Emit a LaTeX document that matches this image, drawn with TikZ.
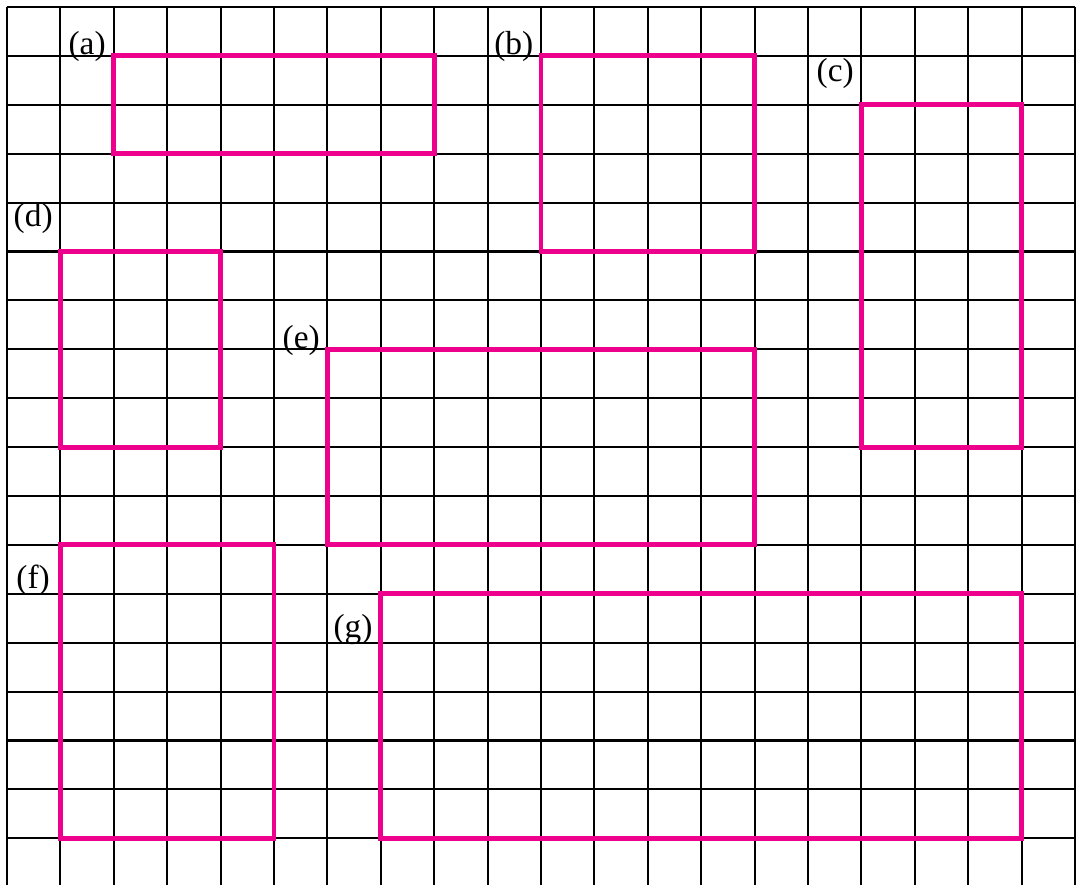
\documentclass[tikz,border=0pt]{standalone}
\usepackage{fontspec}
\setmainfont{Liberation Serif}
\usetikzlibrary{positioning}

\begin{document}
\begin{tikzpicture}[x=1.068cm,y=-0.978cm,
 gridline/.style={line width=1.2pt,black},
 shapebox/.style={line width=2.8pt,draw={rgb,255:red,236;green,0;blue,140}},
 tag/.style={font=\fontsize{19}{22}\selectfont,inner sep=0pt}]
\useasboundingbox (-0.131,-0.143) rectangle (20.037,17.955);
% squared paper
\foreach \i in {0,...,20}
 \draw[gridline] (\i,0) -- (\i,17.96);
\foreach \j in {0,...,17}
 \draw[gridline] (0,\j) -- (20,\j);
% the seven rectangles
\draw[shapebox] (2,1) rectangle (8,3);
\draw[shapebox] (10,1) rectangle (14,5);
\draw[shapebox] (16,2) rectangle (19,9);
\draw[shapebox] (1,5) rectangle (4,9);
\draw[shapebox] (6,7) rectangle (14,11);
\draw[shapebox] (1,11) rectangle (5,17);
\draw[shapebox] (7,12) rectangle (19,17);
% labels
\node[tag] (la) at (1.50,0.80) {(a)};
\node[tag] (lb) at (9.49,0.80) {(b)};
\node[tag] (lc) at (15.51,1.36) {(c)};
\node[tag] (ld) at (0.49,4.33) {(d)};
\node[tag] (le) at (5.51,6.82) {(e)};
\node[tag] (lf) at (0.49,11.73) {(f)};
\node[tag] (lg) at (6.48,12.72) {(g)};
\end{tikzpicture}
\end{document}
